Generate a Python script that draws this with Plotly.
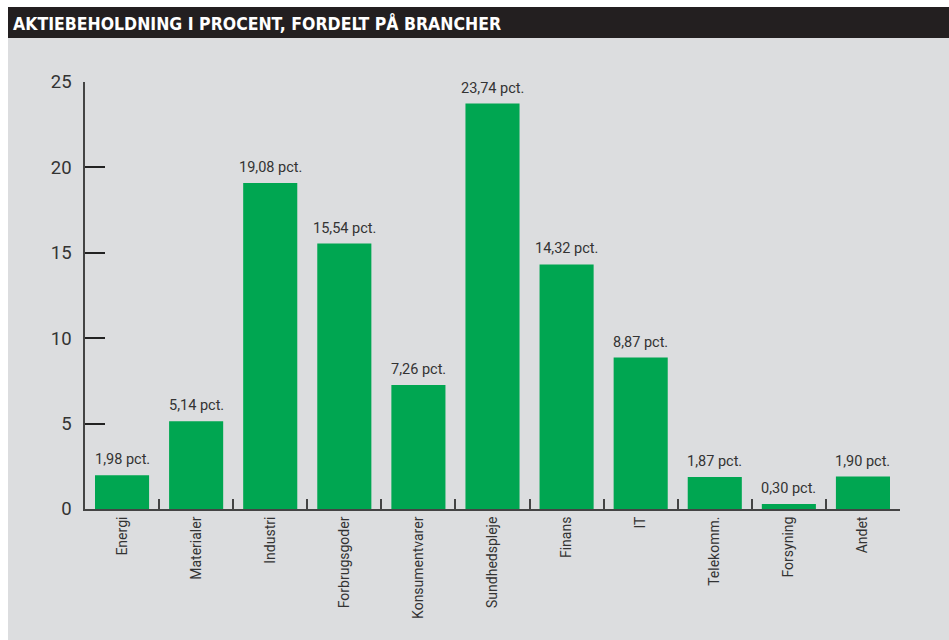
import plotly.graph_objects as go

categories = ["Energi", "Materialer", "Industri", "Forbrugsgoder", "Konsumentvarer",
              "Sundhedspleje", "Finans", "IT", "Telekomm.", "Forsyning", "Andet"]
values = [1.98, 5.14, 19.08, 15.54, 7.26, 23.74, 14.32, 8.87, 1.87, 0.30, 1.90]
labels = ["1,98 pct.", "5,14 pct.", "19,08 pct.", "15,54 pct.", "7,26 pct.", "23,74 pct.",
          "14,32 pct.", "8,87 pct.", "1,87 pct.", "0,30 pct.", "1,90 pct."]
y_ticks = [0, 5, 10, 15, 20, 25]
title = "AKTIEBEHOLDNING I PROCENT, FORDELT PÅ BRANCHER"

W, H = 949, 640
L, R, T, B = 85, 49, 82, 131
pw, ph = W - L - R, H - T - B

def px_x(p):
    return (p - L) / pw

def px_y(p):
    return (H - B - p) / ph

COND = "Liberation Sans Narrow, DejaVu Sans Condensed, Roboto Condensed, Roboto, sans-serif"
TXT = "#333333"

fig = go.Figure()
fig.add_trace(go.Bar(
    x=categories, y=values, marker=dict(color="#00a651", line=dict(width=0)),
    width=0.73, hoverinfo="skip",
))

for c, v, t in zip(categories, values, labels):
    fig.add_annotation(x=c, y=v, text=t, showarrow=False, yanchor="bottom",
                       yshift=5, font=dict(family="Roboto, sans-serif", size=14.5, color=TXT))

shapes = [
    dict(type="rect", xref="paper", yref="paper", x0=px_x(8), x1=px_x(W + 2),
         y0=px_y(H + 2), y1=px_y(38), fillcolor="#dcdddf", line=dict(width=0), layer="below"),
    dict(type="rect", xref="paper", yref="paper", x0=px_x(8), x1=px_x(W + 2),
         y0=px_y(38), y1=px_y(7), fillcolor="#231f20", line=dict(width=0), layer="below"),
]

fig.add_annotation(xref="paper", yref="paper", x=px_x(11), y=px_y(23), xanchor="left",
                   yanchor="middle", text="<b>" + title + "</b>", showarrow=False,
                   font=dict(family=COND, size=17.5, color="white"))

fig.update_layout(
    width=W, height=H, margin=dict(l=L, r=R, t=T, b=B),
    paper_bgcolor="white", plot_bgcolor="rgba(0,0,0,0)",
    shapes=shapes, showlegend=False, bargap=0.27,
    xaxis=dict(type="category", range=[-0.5, 10.5], showline=True, linecolor="#444444",
               linewidth=2, ticks="inside", ticklen=10, tickwidth=1.5, tickcolor="#444444",
               tickson="boundaries", tickangle=-90, showgrid=False, zeroline=False,
               tickfont=dict(family="Roboto, sans-serif", size=14, color=TXT),
               fixedrange=True),
    yaxis=dict(range=[0, 25], tickvals=y_ticks, showline=True, linecolor="#444444",
               linewidth=1.5, ticks="inside", ticklen=20, tickwidth=1.5,
               tickcolor="#222222", showgrid=False, zeroline=False, ticklabelstandoff=8,
               tickfont=dict(family="Roboto, sans-serif", size=18.5, color=TXT),
               fixedrange=True),
)
fig.write_html("out.html")
